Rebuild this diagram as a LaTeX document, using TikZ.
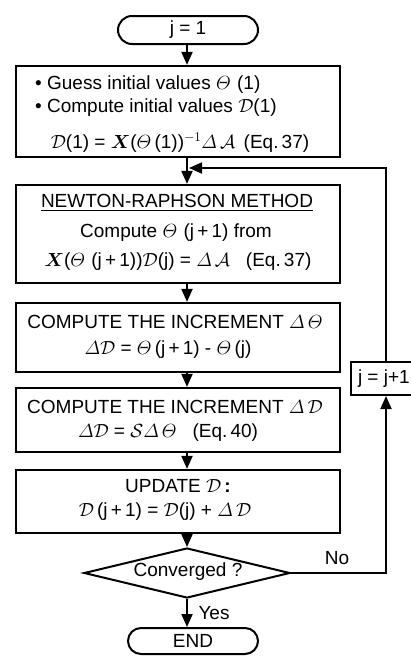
\RequirePackage{fix-cm}
\documentclass[tikz,border=0pt]{standalone}
\usepackage{amsmath}
\usepackage{fontspec}
\setmainfont{Liberation Sans}
\usetikzlibrary{arrows.meta,shapes.misc,shapes.geometric}
\DeclareMathSymbol{\itTheta}{\mathord}{letters}{"02}
\DeclareMathSymbol{\itDelta}{\mathord}{letters}{"01}
\begin{document}
\begin{tikzpicture}[x=1pt,y=-1pt,
  every node/.style={font=\fontsize{19}{22}\selectfont},
  box/.style={draw, line width=2.2pt, inner sep=0pt, minimum width=324pt},
  term/.style={draw, rounded rectangle, line width=2pt, inner sep=0pt},
  arr/.style={line width=2pt, -{Triangle[width=11pt,length=13pt]}},
  txt/.style={inner sep=0pt}]
\useasboundingbox (0,0) rectangle (411,664);
\coordinate (ax) at (187,0);
\coordinate (fb) at (386,0);
\coordinate (merge) at (189,168);

% terminals
\node[term, minimum width=140pt, minimum height=28pt] (s) at (188,30) {j = 1};
\node[term, minimum width=130pt, minimum height=26pt] (e) at (193,641) {END};

% boxes
\node[box, minimum height=91pt] (b1) at (178,111.5) {};
\node[box, minimum height=98pt] (b2) at (178,234) {};
\node[box, minimum height=69pt] (b3) at (178,337.5) {};
\node[box, minimum height=64pt] (b4) at (178,420) {};
\node[box, minimum height=63pt] (b5) at (178,501.5) {};

% decision
\node[draw, diamond, line width=2pt, inner sep=0pt, minimum width=206pt, minimum height=50pt] (d) at (187,573) {};
\node[txt] (dt) at (188,572) {Converged ?};

% j = j+1
\node[draw, line width=2pt, anchor=west, inner xsep=7pt, inner ysep=0pt, minimum height=33pt] (jb) at (350,378.5) {j = j+1};

% box texts
\node[txt, anchor=west] (t11) at (35,85) {\textbullet\ Guess initial values $\itTheta$\,\,(1)};
\node[txt, anchor=west] (t12) at (35,108) {\textbullet\ Compute initial values $\mathcal{D}$(1)};
\node[txt] (t13) at (180,143) {$\mathcal{D}$(1) = $\boldsymbol{X}$($\itTheta$\,(1))$^{-1}$$\itDelta\,\mathcal{A}$\ \,(Eq.\,37)};

\node[txt] (t21) at (177,203) {\underline{NEWTON-RAPHSON METHOD}};
\node[txt] (t22) at (176,233) {Compute $\itTheta$\,\,(j\,+\,1) from};
\node[txt] (t23) at (178,262) {$\boldsymbol{X}$($\itTheta$\,\,(j\,+\,1))$\mathcal{D}$(j) = $\itDelta\,\mathcal{A}$\ \ \ (Eq.\,37)};

\node[txt] (t31) at (175,322) {COMPUTE THE INCREMENT $\itDelta\,\itTheta$};
\node[txt] (t32) at (168,350) {$\itDelta\mathcal{D}$ = $\itTheta$\,(j\,+\,1) - $\itTheta$\,(j)};

\node[txt] (t41) at (175,407) {COMPUTE THE INCREMENT $\itDelta\,\mathcal{D}$};
\node[txt] (t42) at (168,433) {$\itDelta\mathcal{D}$ = $\mathcal{S}\itDelta\,\itTheta$\ \ \ (Eq.\,40)};

\node[txt] (t51) at (178,486) {UPDATE $\mathcal{D}$\,\textbf{:}};
\node[txt] (t52) at (165,512) {$\mathcal{D}$\,(j\,+\,1) = $\mathcal{D}$(j) + $\itDelta\,\mathcal{D}$};

% labels
\node[txt] (no) at (337,558) {No};
\node[txt] (yes) at (214,613) {Yes};

% connectors
\draw[arr] (s.south -| ax) -- (b1.north -| ax);
\draw[arr] (b1.south -| ax) -- (b2.north -| ax);
\draw[arr] (b2.south -| ax) -- (b3.north -| ax);
\draw[arr] (b3.south -| ax) -- (b4.north -| ax);
\draw[arr] (b4.south -| ax) -- (b5.north -| ax);
\draw[arr] (b5.south -| ax) -- (d.north);
\draw[arr] (d.south) -- (e.north -| ax);
\draw[arr] (d.east) -| (jb.south -| fb);
\draw[arr] (jb.north -| fb) |- (merge);
\end{tikzpicture}
\end{document}
